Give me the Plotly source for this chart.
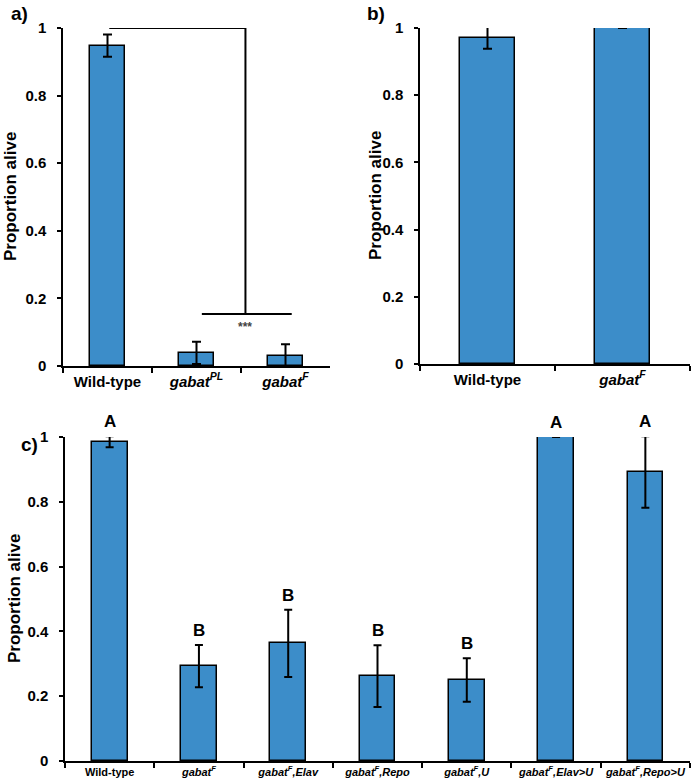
import plotly.graph_objects as go

# ---- data ----
a_categories = ["Wild-type", "gabatPL", "gabatF"]
a_ticktext = ["Wild-type", "<i>gabat<sup>PL</sup></i>", "<i>gabat<sup>F</sup></i>"]
a_values = [0.948, 0.039, 0.030]
a_errors = [0.033, 0.033, 0.034]

b_categories = ["Wild-type", "gabatF"]
b_ticktext = ["Wild-type", "<i>gabat<sup>F</sup></i>"]
b_values = [0.971, 1.0]
b_errors = [0.033, 0.0]

c_categories = ["Wild-type", "gabatF", "gabatF,Elav", "gabatF,Repo", "gabatF,U",
                "gabatF,Elav>U", "gabatF,Repo>U"]
c_ticktext = ["Wild-type", "<i>gabat<sup>F</sup></i>", "<i>gabat<sup>F</sup>,Elav</i>",
              "<i>gabat<sup>F</sup>,Repo</i>", "<i>gabat<sup>F</sup>,U</i>",
              "<i>gabat<sup>F</sup>,Elav&gt;U</i>", "<i>gabat<sup>F</sup>,Repo&gt;U</i>"]
c_values = [0.985, 0.293, 0.363, 0.262, 0.250, 1.0, 0.892]
c_errors = [0.017, 0.065, 0.104, 0.095, 0.067, 0.0, 0.110]
c_letters = ["A", "B", "B", "B", "B", "A", "A"]

y_ticks = [0, 0.2, 0.4, 0.6, 0.8, 1]
y_ticktext = ["0", "0.2", "0.4", "0.6", "0.8", "1"]

# significance bracket (panel a)
sig_top = 1.0
sig_bottom = 0.154
sig_text = "***"

W, H = 693, 780
BAR = "#3C8DC9"
FONT = "Liberation Sans, Arial, sans-serif"


def px_x(a, b):
    return [a / W, b / W]


def px_y(top, bottom):
    return [1 - bottom / H, 1 - top / H]


fig = go.Figure()


def add_bars(cats, vals, errs, xa, ya, width, cap):
    fig.add_trace(go.Bar(
        x=cats, y=vals, xaxis=xa, yaxis=ya, width=width,
        marker=dict(color=BAR, line=dict(color="black", width=1.5)),
        error_y=dict(type="data", array=errs, visible=True, color="black",
                     thickness=2, width=cap),
        showlegend=False, cliponaxis=False,
    ))


add_bars(a_categories, a_values, a_errors, "x", "y", 0.4, 4.5)
add_bars(b_categories, b_values, b_errors, "x2", "y2", 0.41, 4.5)
add_bars(c_categories, c_values, c_errors, "x3", "y3", 0.4, 4)

yaxis_common = dict(
    range=[0, 1], tickvals=y_ticks, ticktext=y_ticktext, ticks="outside",
    ticklen=4, tickwidth=1.5, tickcolor="black", showline=True,
    linecolor="black", linewidth=1.5, showgrid=False, zeroline=False,
    tickfont=dict(family=FONT, size=15, color="black", weight="bold"),
    ticklabelstandoff=8, automargin=False,
)


def xaxis_common(cats, ticktext, size, standoff):
    return dict(
        type="category", categoryorder="array", categoryarray=cats,
        tickvals=cats, ticktext=ticktext, range=[-0.5, len(cats) - 0.5],
        tickson="boundaries", ticks="outside", ticklen=5, tickwidth=1.5,
        tickcolor="black", showline=True, linecolor="black", linewidth=1.5,
        showgrid=False, zeroline=False, tickangle=0, automargin=False,
        ticklabelstandoff=standoff,
        tickfont=dict(family=FONT, size=size, color="black", weight="bold"),
    )


fig.update_layout(
    width=W, height=H, margin=dict(l=0, r=0, t=0, b=0, pad=0, autoexpand=False),
    plot_bgcolor="white", paper_bgcolor="white", bargap=0,
    font=dict(family=FONT, color="black"),
    xaxis=dict(domain=px_x(63, 330), anchor="y", **xaxis_common(a_categories, a_ticktext, 15, 1)),
    yaxis=dict(domain=px_y(28, 366), anchor="x", **yaxis_common),
    xaxis2=dict(domain=px_x(420, 690), anchor="y2", **xaxis_common(b_categories, b_ticktext, 15, 1)),
    yaxis2=dict(domain=px_y(28, 364), anchor="x2", **yaxis_common),
    xaxis3=dict(domain=px_x(65, 690), anchor="y3", **xaxis_common(c_categories, c_ticktext, 11, 0)),
    yaxis3=dict(domain=px_y(437, 761), anchor="x3", **yaxis_common),
)

# y axis titles
for xp, (t, b) in [(10, (28, 366)), (375, (28, 364)), (14, (437, 761))]:
    fig.add_annotation(
        text="<b>Proportion alive</b>", textangle=-90, xref="paper", yref="paper",
        x=xp / W, y=1 - ((t + b) / 2) / H, xanchor="center", yanchor="middle",
        showarrow=False, font=dict(family=FONT, size=17, color="black"),
    )

# panel labels
for lab, xp, yp in [("a)", 19, 13), ("b)", 376, 13), ("c)", 29, 444)]:
    fig.add_annotation(
        text=f"<b>{lab}</b>", xref="paper", yref="paper", x=xp / W, y=1 - yp / H,
        xanchor="center", yanchor="middle", showarrow=False,
        font=dict(family=FONT, size=19, color="black"),
    )

# significance bracket (panel a)
line = dict(color="black", width=2)
fig.add_shape(type="line", xref="x", yref="y", x0=0.02, x1=1.55, y0=sig_top, y1=sig_top, line=line)
fig.add_shape(type="line", xref="x", yref="y", x0=1.55, x1=1.55, y0=sig_top, y1=sig_bottom, line=line)
fig.add_shape(type="line", xref="x", yref="y", x0=1.06, x1=2.07, y0=sig_bottom, y1=sig_bottom, line=line)
fig.add_annotation(
    text=sig_text, xref="x", yref="y", x=1.55, y=sig_bottom, yanchor="top", yshift=-4,
    showarrow=False, font=dict(family=FONT, size=12, color="#444444", weight="bold"),
)

# group letters (panel c) - positioned relative to the y3 domain so they can sit above 1
for i, (v, e, lt) in enumerate(zip(c_values, c_errors, c_letters)):
    fig.add_annotation(
        text=f"<b>{lt}</b>", xref="x3", yref="y3 domain", x=i, y=(v + e),
        yanchor="bottom", yshift=3, showarrow=False,
        font=dict(family=FONT, size=17, color="black"),
    )

fig.write_html("out.html", config={"displayModeBar": False},
               post_script="document.body.style.margin='0';document.body.style.overflow='hidden';")
